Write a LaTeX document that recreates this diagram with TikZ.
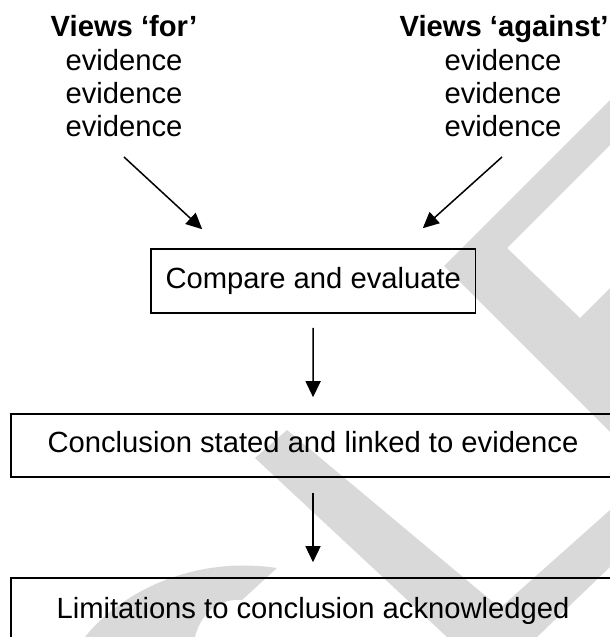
\documentclass[tikz,border=0pt]{standalone}
\usepackage{fontspec}
\setmainfont{Liberation Sans}
\usetikzlibrary{arrows.meta}
\begin{document}
\begin{tikzpicture}[x=1pt,y=-1pt,
  wm/.style={fill={rgb,255:red,217;green,217;blue,217}},
  lbl/.style={anchor=base, inner sep=0pt, font=\fontsize{29.2}{33}\selectfont},
  hdr/.style={anchor=base, inner sep=0pt, font=\fontsize{29.2}{33}\selectfont\bfseries},
  stepbox/.style={draw, line width=1.6pt, inner sep=0pt, text height=21pt, text depth=7pt, font=\fontsize{29.2}{33}\selectfont},
  arr/.style={line width=1.5pt, -{Triangle[length=16pt,width=15pt]}}]
\useasboundingbox (0,0) rectangle (610,637);
\fill[white] (0,0) rectangle (610,637);
\clip (0,0) rectangle (610,637);
% watermark
\fill[wm, even odd rule] (610,100) -- (444,266) -- (610,432) -- cycle
  (610,145) -- (507,248) -- (580,318) -- (610,288) -- cycle;
\fill[wm] (255,458) -- (287,430) -- (500,608) -- (610,510) -- (610,567) -- (537,637) -- (447,637) -- cycle;
\fill[wm] (85,637) .. controls (118,595) and (190,555) .. (277,568) -- (242,600) .. controls (218,598) and (200,615) .. (195,637) -- cycle;
% texts
\node[hdr] (vf) at (124,36) {Views ‘for’};
\node[lbl] (ef1) at (124,70) {evidence};
\node[lbl] (ef2) at (124,103) {evidence};
\node[lbl] (ef3) at (124,136) {evidence};
\node[hdr] (va) at (504,36) {Views ‘against’};
\node[lbl] (ea1) at (503,70) {evidence};
\node[lbl] (ea2) at (503,103) {evidence};
\node[lbl] (ea3) at (503,136) {evidence};
% boxes
\node[stepbox, minimum width=324.5pt, minimum height=64pt] (cmp) at (313.25,281) {Compare and evaluate};
\node[stepbox, minimum width=604pt, minimum height=63pt] (con) at (313,445.5) {Conclusion stated and linked to evidence};
\node[stepbox, minimum width=604pt, minimum height=66pt] (lim) at (313,611) {Limitations to conclusion acknowledged};
% connectors
\coordinate (fa) at ([yshift=-21pt]ef3.base);
\coordinate (fb) at ([xshift=52pt,yshift=19pt]cmp.north west);
\coordinate (ga) at ([xshift=-1pt,yshift=-21pt]ea3.base);
\coordinate (gb) at ([xshift=-53.5pt,yshift=20pt]cmp.north east);
\draw[arr] (fa) -- (fb);
\draw[arr] (ga) -- (gb);
\draw[arr, shorten <=14pt, shorten >=16pt] (cmp.south) -- (con.north);
\draw[arr, shorten <=15pt, shorten >=15pt] (con.south) -- (lim.north);
\end{tikzpicture}
\end{document}
